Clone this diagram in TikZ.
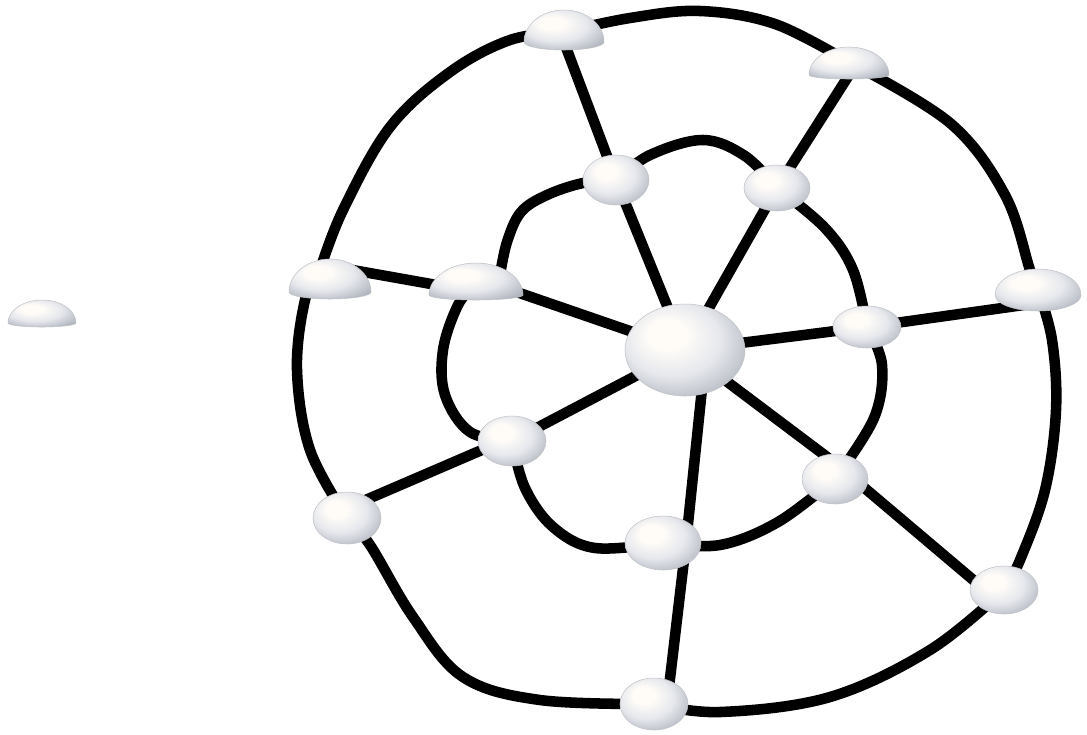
\documentclass[tikz,border=0pt]{standalone}
\usetikzlibrary{calc}
\definecolor{orbA}{RGB}{255,252,248}
\definecolor{orbB}{RGB}{230,232,237}
\definecolor{orbC}{RGB}{190,194,202}
\definecolor{orbD}{RGB}{150,154,162}
\definecolor{orbE}{RGB}{130,133,140}
\pgfdeclareradialshading{orb}{\pgfpoint{-9bp}{10bp}}{color(0bp)=(orbA); color(8bp)=(orbA); color(20bp)=(orbB); color(30bp)=(orbC); color(40bp)=(orbD); color(50bp)=(orbE)}
\tikzset{
  link/.style={line width=6pt, black},
  ring/.style={line width=6pt, black, line join=round},
  orbfill/.style={shading=orb, draw=orbD!60, line width=0.3pt}
}
\begin{document}
\begin{tikzpicture}[x=0.02cm, y=-0.02cm]
\path[use as bounding box] (0,0) rectangle (1087,734);
% ellipsoid node centres
\coordinate (c)   at (685,350);
\coordinate (itl) at (616,180);
\coordinate (itr) at (777,188);
\coordinate (ir)  at (867,327);
\coordinate (ibr) at (835,479);
\coordinate (ib)  at (663,543);
\coordinate (ilb) at (512,441);
\coordinate (olb) at (347,518);
\coordinate (obr) at (1004,590);
\coordinate (ob)  at (654,704);
% dome node base centres
\coordinate (iso) at (42,323);
\coordinate (ot)  at (564,42);
\coordinate (otr) at (849,75);
\coordinate (ol)  at (330,292);
\coordinate (il)  at (476,295);
\coordinate (or)  at (1038,295);
% inner ring
\draw[ring] plot[smooth, tension=0.6] coordinates {(itl) (650,155) (703,140) (745,156) (itr)};
\draw[ring] plot[smooth, tension=0.6] coordinates {(itr) (825,228) (853,270) (ir)};
\draw[ring] plot[smooth, tension=0.6] coordinates {(ir) (882,365) (874,418) (ibr)};
\draw[ring] plot[smooth, tension=0.6] coordinates {(ibr) (778,522) (720,545) (ib)};
\draw[ring] plot[smooth, tension=0.6] coordinates {(ib) (595,548) (553,527) (525,488) (ilb)};
\draw[ring] plot[smooth, tension=0.6] coordinates {(ilb) (470,432) (445,395) (443,350) (458,305) (476,283)};
\draw[ring] plot[smooth, tension=0.6] coordinates {(500,275) (507,242) (521,212) (547,195) (583,183) (itl)};
% outer ring
\draw[ring] plot[smooth, tension=0.6] coordinates {(564,32) (630,18) (700,11) (775,24) (849,62)};
\draw[ring] plot[smooth, tension=0.6] coordinates {(849,62) (950,123) (1005,195) (1030,270) (1038,290)};
\draw[ring] plot[smooth, tension=0.6] coordinates {(1038,290) (1052,340) (1056,410) (1045,490) (1020,560) (obr)};
\draw[ring] plot[smooth, tension=0.6] coordinates {(obr) (930,650) (830,697) (720,712) (ob)};
\draw[ring] plot[smooth, tension=0.6] coordinates {(ob) (540,700) (463,677) (413,617) (370,545) (olb)};
\draw[ring] plot[smooth, tension=0.6] coordinates {(olb) (310,450) (297,370) (305,300) (320,270)};
\draw[ring] plot[smooth, tension=0.6] coordinates {(320,270) (343,210) (390,127) (450,72) (510,40) (564,32)};
% spokes
\draw[link] (c) -- (itl);
\draw[link] (itl) -- (ot);
\draw[link] (c) -- (itr);
\draw[link] (itr) -- (otr);
\draw[link] (c) -- (ir);
\draw[link] (ir) -- ($(or)+(0,8)$);
\draw[link] (c) -- ($(il)+(0,-17)$);
\draw[link] ($(il)+(0,-3)$) -- ($(ol)+(0,-26)$);
\draw[link] (c) -- (ilb);
\draw[link] ($(ilb)+(0,-4)$) -- ($(olb)+(0,-10)$);
\draw[link] (c) -- ($(ibr)+(0,-16)$);
\draw[link] ($(ibr)+(0,-16)$) -- ($(obr)+(0,16)$);
\draw[link] ($(c)+(21,0)$) -- ($(ib)+(23,0)$);
\draw[link] ($(ib)+(23,0)$) -- ($(ob)+(13,0)$);
% ellipsoid nodes
\foreach \n/\a/\b in {c/60/46, itl/33/25, itr/33/23, ir/34/21, ibr/33/25,
  ib/38/27, ilb/34/25, olb/34/26, obr/34/24, ob/34/26}
  \shadedraw[orbfill] (\n) ellipse [x radius=\a, y radius=\b];
% dome nodes
\foreach \n/\a/\h/\d in {iso/34/23/4, ot/40/32/8, otr/40/28/4, ol/41/33/7,
  il/47/32/5, or/43/26/16}
  \shadedraw[orbfill] ($(\n)+(-\a,0)$)
    arc[start angle=180, end angle=360, x radius=\a, y radius=\h]
    arc[start angle=0, end angle=180, x radius=\a, y radius=\d] -- cycle;
\end{tikzpicture}
\end{document}
